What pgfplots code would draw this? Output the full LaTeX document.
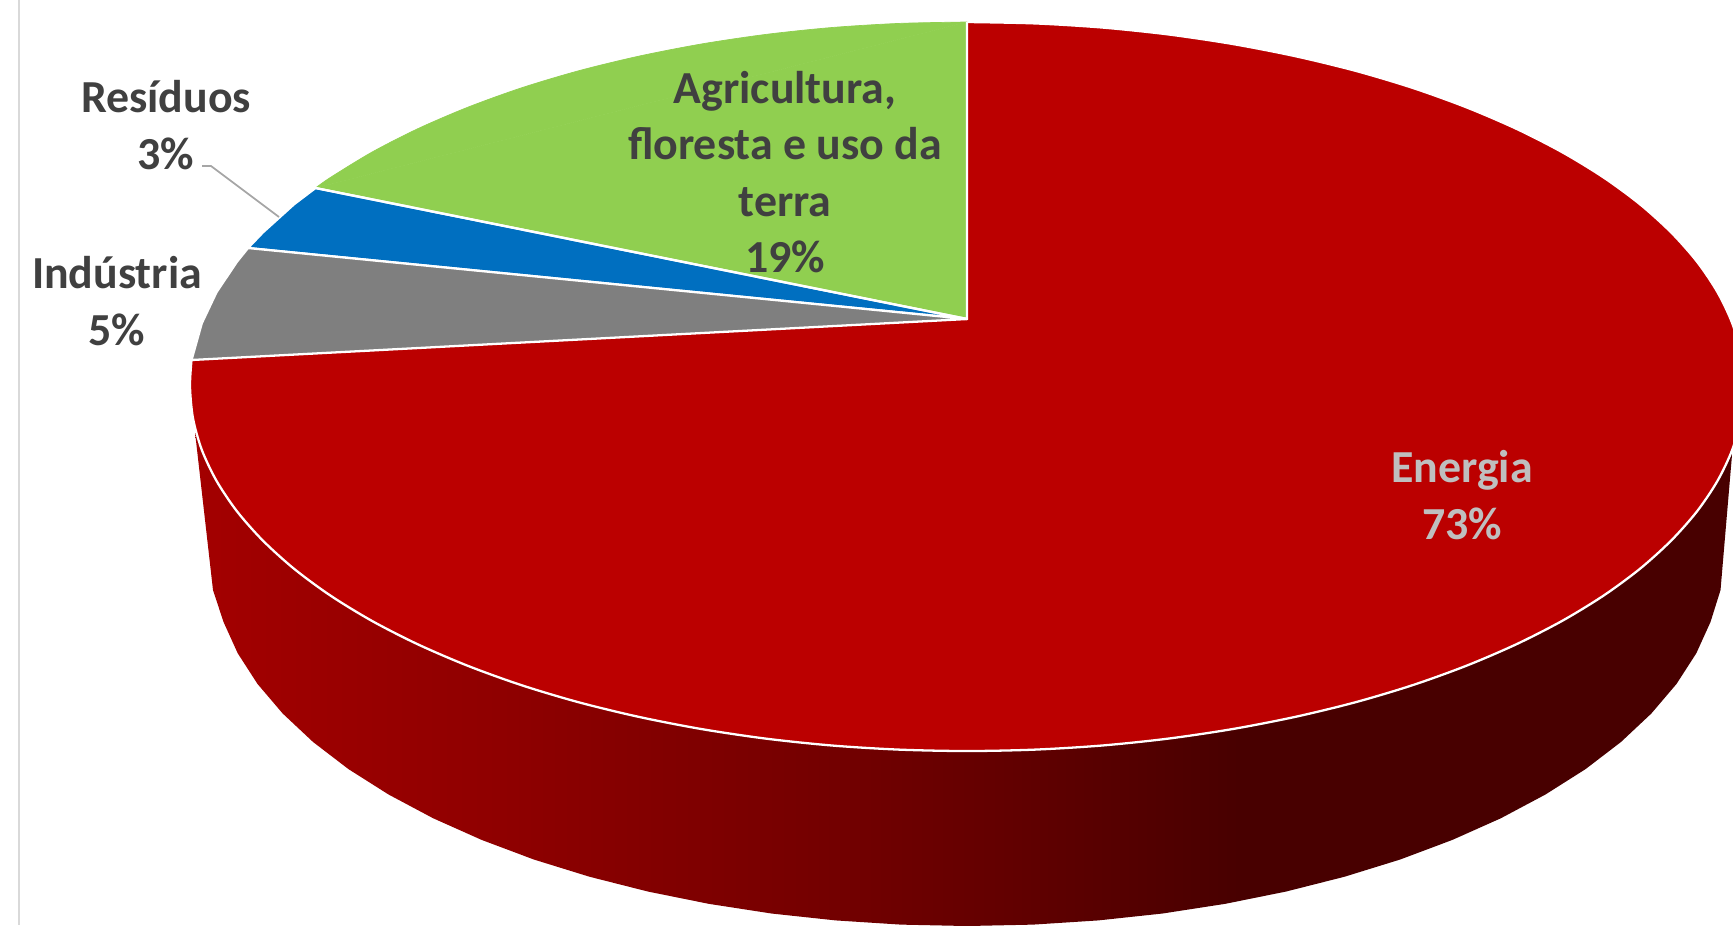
\documentclass[border=0pt]{standalone}
\usepackage{fontspec}
\setmainfont{Carlito}
\usepackage{pgfplots}
\pgfplotsset{compat=1.18}
\definecolor{energia}{RGB}{187,0,0}
\definecolor{agri}{RGB}{144,207,80}
\definecolor{residuos}{RGB}{0,111,192}
\definecolor{industria}{RGB}{127,127,127}
\definecolor{texto}{RGB}{64,64,64}
\definecolor{energiatxt}{RGB}{191,191,191}
\definecolor{frameline}{RGB}{217,217,217}
\definecolor{leader}{RGB}{166,166,166}
% side of the disc: dark red, darker to the right
\pgfdeclarehorizontalshading{rimside}{100bp}{
  rgb(0bp)=(0.64,0,0);
  rgb(25bp)=(0.64,0,0);
  rgb(35bp)=(0.56,0,0);
  rgb(45bp)=(0.46,0,0);
  rgb(51bp)=(0.39,0,0);
  rgb(59bp)=(0.282,0,0);
  rgb(100bp)=(0.282,0,0)}
\tikzset{lbl/.style={font=\bfseries\fontsize{13.05}{16}\selectfont, align=center, text=texto, inner sep=0pt}}
\begin{document}
\begin{tikzpicture}
\begin{axis}[
  scale only axis,
  width=17.33cm,
  height=9.25cm,
  xmin=0, xmax=1733,
  ymin=0, ymax=925,
  y dir=reverse,
  ticks=none,
  axis line style={draw=none},
  every axis plot/.append style={no markers, line join=round},
]
% thin frame line on the left
\addplot[draw=frameline, line width=0.8pt] coordinates {(19,0) (19,925)};
% rim: the straight left and right edges, the lower arc between them
\addplot[draw=none, shade, shading=rimside] coordinates {
  (195,432) (213,590) (223.5,621.9) (237.7,653.2) (257.5,683.9)
  (282.7,713.5) (313.1,742) (348.5,769.1) (388.6,794.5) (433.1,818.2) (481.7,839.9)
  (533.9,859.5) (589.5,876.7) (647.9,891.5) (708.8,903.8) (771.6,913.5) (835.9,920.4)
  (901.2,924.6) (967,926) (1032.8,924.6) (1098.1,920.4) (1162.4,913.5) (1225.2,903.8)
  (1286.1,891.5) (1344.5,876.7) (1400.1,859.5) (1452.3,839.9) (1500.9,818.2) (1545.4,794.5)
  (1585.5,769.1) (1620.9,742) (1651.3,713.5) (1676.5,683.9) (1696.3,653.2) (1710.5,621.9)
  (1720.5,590) (1733,443)
} -- cycle;
% Energia 73%: the arc, the chord is covered by the other slices
\addplot[fill=energia, draw=white, line width=0.65pt, smooth] coordinates {
  (967,22) (1034.7,23.4) (1101.9,27.5) (1168.1,34.4) (1232.7,44) (1295.4,56.2)
  (1355.5,70.8) (1412.7,87.9) (1466.4,107.3) (1516.4,128.8) (1562.2,152.2) (1603.5,177.4)
  (1639.9,204.2) (1671.2,232.5) (1697.1,261.8) (1717.5,292.2) (1732.2,323.2) (1741,354.7)
  (1744,386.5) (1741,418.3) (1732.2,449.8) (1717.5,480.8) (1697.1,511.2) (1671.2,540.5)
  (1639.9,568.8) (1603.5,595.6) (1562.2,620.8) (1516.4,644.2) (1466.4,665.7) (1412.7,685.1)
  (1355.5,702.2) (1295.4,716.8) (1232.7,729) (1168.1,738.6) (1101.9,745.5) (1034.7,749.6)
  (967,751) (899.3,749.6) (832.1,745.5) (765.9,738.6) (701.3,729) (638.6,716.8) (578.5,702.2)
  (521.3,685.1) (467.6,665.7) (417.6,644.2) (371.8,620.8) (330.5,595.6) (294.1,568.8)
  (262.8,540.5) (236.9,511.2) (216.5,480.8) (201.8,449.8) (193,418.3) (190,386.5) (191.5,360)
} -- cycle;
% Agricultura 19%: cap and triangle
\addplot[fill=agri, draw=agri, line width=0.2pt, smooth] coordinates {
  (315.5,188) (330.5,177.4) (371.8,152.2) (417.6,128.8) (467.6,107.3) (521.3,87.9)
  (578.5,70.8) (638.6,56.2) (701.3,44) (765.9,34.4) (832.1,27.5) (899.3,23.4) (967,22)
} -- cycle;
\addplot[fill=agri, draw=none] coordinates {(967,319) (315.5,188) (967,22)} -- cycle;
% Residuos 3%
\addplot[fill=residuos, draw=white, line width=0.65pt] coordinates {
  (967,319) (248,248) (262.8,232.5) (294.1,204.2) (315.5,188)
} -- cycle;
% Industria 5%
\addplot[fill=industria, draw=white, line width=0.65pt] coordinates {
  (967,319) (191.5,360) (193,354.7) (201.8,323.2) (216.5,292.2) (236.9,261.8) (248,248)
} -- cycle;
% slice edges
\addplot[draw=white, line width=0.65pt] coordinates {(315.5,188) (967,319) (967,22)};
% leader line of Residuos
\addplot[draw=leader, line width=0.5pt] coordinates {(202,166) (211,166) (279,217)};
\node[lbl] at (axis cs:166,125) {Resíduos\\3\%};
\node[lbl] at (axis cs:117,301) {Indústria\\5\%};
\node[lbl] at (axis cs:785,172) {Agricultura,\\floresta e uso da\\terra\\19\%};
\node[lbl, text=energiatxt] at (axis cs:1462,495) {Energia\\73\%};
\end{axis}
\end{tikzpicture}
\end{document}
